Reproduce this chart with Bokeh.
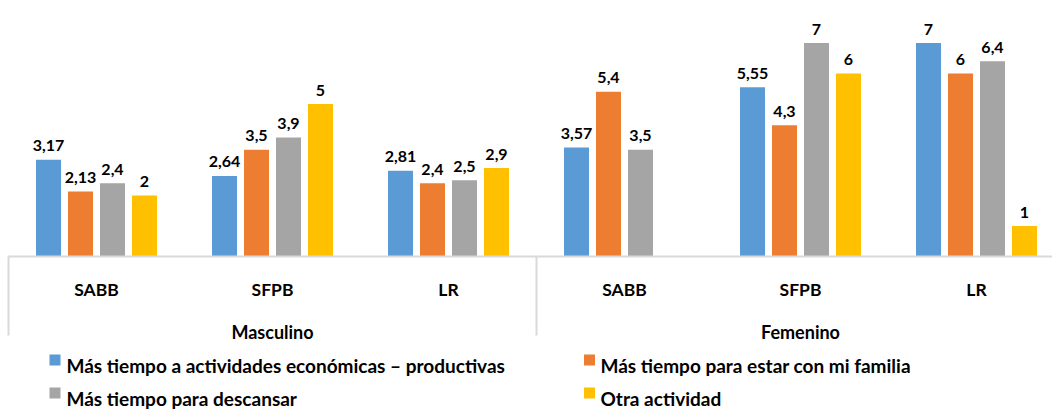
from bokeh.plotting import figure
from bokeh.models import ColumnDataSource, Range1d
from bokeh.core.properties import value
from bokeh.embed import file_html
from bokeh.resources import INLINE

# ---------------- data ----------------
groups = ["Masculino", "Femenino"]
sites = ["SABB", "SFPB", "LR"]
series_names = [
    "Más tiempo a actividades económicas – productivas",
    "Más tiempo para estar con mi familia",
    "Más tiempo para descansar",
    "Otra actividad",
]
economicas = [3.17, 2.64, 2.81, 3.57, 5.55, 7]
familia = [2.13, 3.5, 2.4, 5.4, 4.3, 6]
descansar = [2.4, 3.9, 2.5, 3.5, 7, 6.4]
otra = [2, 5, 2.9, None, 6, 1]
colors = ["#5B9BD5", "#ED7D31", "#A5A5A5", "#FFC000"]

# ---------------- geometry ----------------
W, H = 1052, 412
CAT_PX = 176.0          # pixels per category
X0 = 8.0                # picture x where the category axis starts
K = 30.5                # pixels per unit on y
BASE = 256.0            # picture y of value 0


def yd(wy):
    return (BASE - wy) / K


def xd(wx):
    return (wx - X0) / CAT_PX


p = figure(width=W, height=H, output_backend="svg", toolbar_location=None,
           x_axis_location=None, y_axis_location=None,
           x_range=Range1d(xd(0), xd(W)), y_range=Range1d(yd(H), yd(0)),
           min_border=0, min_border_left=0, min_border_right=0,
           min_border_top=0, min_border_bottom=0, outline_line_color=None)
p.grid.visible = False
p.background_fill_color = "white"

FONT = value("Lato")
all_series = [economicas, familia, descansar, otra]
offsets_px = [-48, -16, 16, 48]
bar_w = 25 / CAT_PX
n_cat = len(groups) * len(sites)

for s, vals in enumerate(all_series):
    xs, ys, labels = [], [], []
    for i, v in enumerate(vals):
        if v is None:
            continue
        xs.append(i + 0.5 + offsets_px[s] / CAT_PX)
        ys.append(v)
        labels.append(f"{v:g}".replace(".", ","))
    src = ColumnDataSource(dict(x=xs, top=ys, ly=[v + 14 / K for v in ys], lab=labels))
    p.vbar(x="x", top="top", bottom=0, width=bar_w, source=src,
           fill_color=colors[s], line_color=None)
    p.text(x="x", y="ly", text="lab", source=src, text_font=FONT,
           text_font_style="bold", text_font_size="16px", text_color="#000000",
           text_align="center", text_baseline="alphabetic")

# axis line and group separators
p.segment(x0=[0], y0=[0], x1=[n_cat], y1=[0], line_color="#D9D9D9", line_width=2)
sep_x = [0, 3, 6]
p.segment(x0=sep_x, y0=[0] * 3, x1=sep_x, y1=[yd(335)] * 3,
          line_color="#D9D9D9", line_width=2)

# category labels
cat_x = [i + 0.5 for i in range(n_cat)]
cat_lab = sites * len(groups)
p.text(x=cat_x, y=[yd(289)] * n_cat, text=cat_lab, text_font=FONT,
       text_font_style="bold", text_font_size="17.5px", text_color="#000000",
       text_align="center", text_baseline="alphabetic")
grp_x = [1.5, 4.5]
p.text(x=grp_x, y=[yd(331)] * 2, text=groups, text_font=FONT,
       text_font_style="bold", text_font_size="18px", text_color="#000000",
       text_align="center", text_baseline="alphabetic")

# legend (2 columns x 2 rows)
leg_sq_x = [54.5, 589, 54.5, 589]
leg_txt_x = [66, 600, 66, 600]
leg_base = [365, 365, 398, 398]
p.scatter(x=[xd(v) for v in leg_sq_x], y=[yd(b - 5.5) for b in leg_base],
          marker="square", size=11, fill_color=colors, line_color=None)
p.text(x=[xd(v) for v in leg_txt_x], y=[yd(b) for b in leg_base], text=series_names,
       text_font=FONT, text_font_style="bold", text_font_size="19px",
       text_color="#000000", text_align="left", text_baseline="alphabetic")

open("out.html", "w").write(file_html(p, INLINE))
